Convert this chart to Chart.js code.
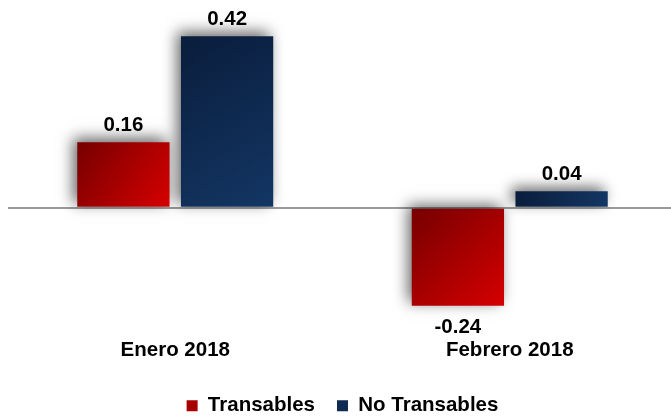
<!DOCTYPE html>
<html lang="es">
<head>
    <meta charset="UTF-8">
    <title>Transables / No Transables</title>
    <script src="https://cdn.jsdelivr.net/npm/chart.js@4/dist/chart.umd.min.js"></script>
    <style>
        html, body {
            margin: 0;
            padding: 0;
            background: #ffffff;
            overflow: hidden;
        }
        .wrap {
            width: 680px;
            height: 426px;
            position: relative;
        }
    </style>
</head>
<body>
    <div class="wrap">
        <canvas id="chart"></canvas>
    </div>

    <script>
        // Data
        const categories = ['Enero 2018', 'Febrero 2018'];
        const transables = [0.16, -0.24];
        const noTransables = [0.42, 0.04];

        const FONT = 'Arial, "Liberation Sans", sans-serif';

        // gradient fill per bar: dark at top-left, brighter at bottom-right
        const gradients = [
            ['#760000', '#d60000'],
            ['#0a1d3c', '#133663']
        ];

        const barStyle = {
            id: 'barStyle',
            beforeDatasetsDraw(chart) {
                const ctx = chart.ctx;
                chart.data.datasets.forEach((ds, i) => {
                    const meta = chart.getDatasetMeta(i);
                    meta.data.forEach(el => {
                        const top = Math.min(el.y, el.base);
                        const bottom = Math.max(el.y, el.base);
                        const left = el.x - el.width / 2;
                        const right = el.x + el.width / 2;
                        const g = ctx.createLinearGradient(left, top, right, bottom);
                        g.addColorStop(0, gradients[i][0]);
                        g.addColorStop(1, gradients[i][1]);
                        el.options.backgroundColor = g;
                    });
                });
                ctx.save();
                ctx.shadowColor = 'rgba(0, 0, 0, 0.6)';
                ctx.shadowBlur = 14;
                ctx.shadowOffsetX = -4;
                ctx.shadowOffsetY = -4;
            },
            afterDatasetsDraw(chart) {
                const ctx = chart.ctx;
                ctx.restore();

                // value labels
                ctx.save();
                ctx.font = 'bold 20.5px ' + FONT;
                ctx.fillStyle = '#000000';
                ctx.textAlign = 'center';
                chart.data.datasets.forEach((ds, i) => {
                    const meta = chart.getDatasetMeta(i);
                    meta.data.forEach((el, j) => {
                        const v = ds.data[j];
                        if (v >= 0) {
                            ctx.textBaseline = 'bottom';
                            ctx.fillText(v.toFixed(2), el.x, el.y - 7);
                        } else {
                            ctx.textBaseline = 'top';
                            ctx.fillText(v.toFixed(2), el.x, el.y + 11);
                        }
                    });
                });
                ctx.restore();
            }
        };

        new Chart(document.getElementById('chart'), {
            type: 'bar',
            data: {
                labels: categories,
                datasets: [
                    {
                        label: 'Transables',
                        data: transables,
                        // scriptable so every bar gets its own options object
                        backgroundColor: () => '#a80000',
                        categoryPercentage: 0.62,
                        barPercentage: 0.89
                    },
                    {
                        label: 'No Transables',
                        data: noTransables,
                        backgroundColor: () => '#0f2b52',
                        categoryPercentage: 0.62,
                        barPercentage: 0.89
                    }
                ]
            },
            options: {
                responsive: true,
                maintainAspectRatio: false,
                animation: false,
                layout: {
                    padding: { left: 8, right: 3, top: 3.5, bottom: 0 }
                },
                plugins: {
                    tooltip: { enabled: false },
                    legend: {
                        position: 'bottom',
                        labels: {
                            boxWidth: 11,
                            boxHeight: 11,
                            padding: 22,
                            color: '#000000',
                            font: { family: FONT, size: 20.5, weight: 'bold' },
                            generateLabels(chart) {
                                const cols = ['#a80000', '#0f2b52'];
                                return chart.data.datasets.map((ds, i) => ({
                                    text: ds.label,
                                    fillStyle: cols[i],
                                    strokeStyle: cols[i],
                                    lineWidth: 0,
                                    fontColor: '#000000',
                                    hidden: false,
                                    datasetIndex: i
                                }));
                            }
                        }
                    }
                },
                scales: {
                    x: {
                        grid: { display: false },
                        border: { display: false },
                        ticks: {
                            color: '#000000',
                            padding: 5,
                            font: { family: FONT, size: 20.5, weight: 'bold' }
                        },
                        afterFit(axis) {
                            axis.height += 6;
                        }
                    },
                    y: {
                        min: -0.287,
                        max: 0.5,
                        border: { display: false },
                        ticks: { display: false, stepSize: 0.1 },
                        grid: {
                            drawTicks: false,
                            lineWidth: 2,
                            color: c => (c.tick && c.tick.value === 0 ? '#9a9a9a' : 'rgba(0,0,0,0)')
                        }
                    }
                }
            },
            plugins: [barStyle]
        });
    </script>
</body>
</html>
